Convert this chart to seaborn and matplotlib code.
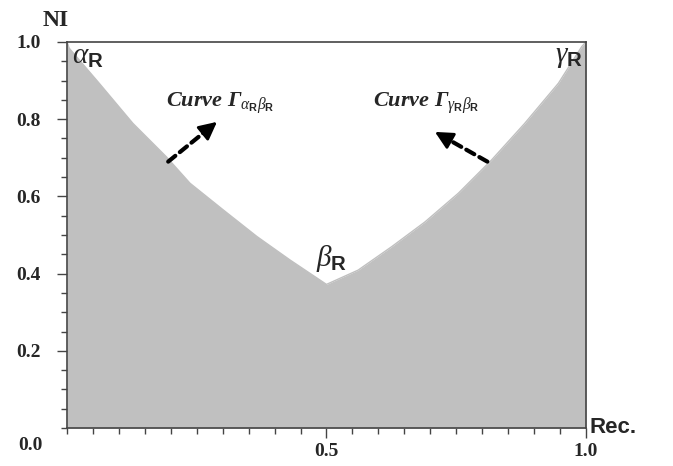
import matplotlib
matplotlib.use("Agg")
import matplotlib.pyplot as plt
import seaborn as sns
import pandas as pd

# boundary of the region
rec = [0.0, 0.004, 0.062, 0.127, 0.191, 0.237, 0.301, 0.366, 0.430, 0.500,
       0.561, 0.626, 0.690, 0.754, 0.818, 0.882, 0.947, 0.992, 1.0]
ni = [1.0, 0.984, 0.893, 0.789, 0.703, 0.634, 0.565, 0.496, 0.435, 0.372,
      0.409, 0.470, 0.534, 0.608, 0.694, 0.789, 0.893, 0.988, 1.0]

y_ticks = [0.2, 0.4, 0.6, 0.8, 1.0]
y_labels = ["0.2", "0.4", "0.6", "0.8", "1.0"]
x_ticks = [0.5, 1.0]
x_labels = ["0.5", "1.0"]

df = pd.DataFrame({"Rec": rec, "NI": ni})

sns.set_theme(style="white")
plt.rcParams["font.family"] = ["Liberation Serif", "DejaVu Serif"]
plt.rcParams["mathtext.fontset"] = "custom"
plt.rcParams["mathtext.rm"] = "Liberation Serif"
plt.rcParams["mathtext.it"] = "Liberation Serif:italic"
plt.rcParams["mathtext.bf"] = "Liberation Serif:bold"
plt.rcParams["mathtext.bfit"] = "Liberation Serif:italic:bold"
plt.rcParams["mathtext.sf"] = "Liberation Sans:bold"

fig = plt.figure(figsize=(6.73, 4.66), dpi=100)
ax = fig.add_axes([0.0996, 0.0815, 0.771, 0.8285])

ax.fill_between(df["Rec"], 0, df["NI"], color="#c0c0c0", lw=0)
sns.lineplot(data=df, x="Rec", y="NI", ax=ax, color="#c0c0c0", lw=1, sort=False)

ax.set_xlim(0, 1)
ax.set_ylim(0, 1)
ax.set_xlabel("")
ax.set_ylabel("")

for s in ax.spines.values():
    s.set_color("#444444")
    s.set_linewidth(1.2)

ax.set_xticks(x_ticks)
ax.set_xticklabels(x_labels, fontsize=14, fontweight="bold")
ax.set_xticks([i * 0.05 for i in range(21)], minor=True)
ax.set_yticks(y_ticks)
ax.set_yticklabels(y_labels, fontsize=14, fontweight="bold")
ax.set_yticks([i * 0.05 for i in range(21)], minor=True)
ax.tick_params(axis="both", which="both", direction="out", bottom=True, left=True,
               top=False, right=False, color="#444444", width=1)
ax.tick_params(axis="both", which="major", length=7, pad=12)
ax.tick_params(axis="both", which="minor", length=4)
ax.tick_params(axis="x", which="major", pad=4)

# shared origin label, axis names
fig.text(0.045, 0.045, "0.0", fontsize=14, fontweight="bold", ha="center", va="center")
fig.text(0.082, 0.955, "NI", fontsize=17, fontweight="bold", ha="center", va="center")
fig.text(0.876, 0.083, "Rec.", fontsize=16, fontweight="bold", ha="left", va="center",
         family="Liberation Sans")

# point labels
ax.text(0.01, 0.962, r"$\alpha_{\mathsf{R}}$", fontsize=21, ha="left", va="center")
ax.text(0.94, 0.962, r"$\gamma_{\mathsf{R}}$", fontsize=21, ha="left", va="center")
ax.text(0.48, 0.44, r"$\beta_{\mathsf{R}}$", fontsize=21, ha="left", va="center")

ax.text(0.19, 0.84, r"Curve Γ$_{\alpha_{\mathsf{R}}\beta_{\mathsf{R}}}$",
        fontsize=16, fontweight="bold", style="italic", ha="left", va="center")
ax.text(0.59, 0.84, r"Curve Γ$_{\gamma_{\mathsf{R}}\beta_{\mathsf{R}}}$",
        fontsize=16, fontweight="bold", style="italic", ha="left", va="center")

# dashed arrows: dashed shaft + solid head
arrows = [((0.195, 0.69), (0.289, 0.793)), ((0.81, 0.69), (0.709, 0.767))]
for tail, tip in arrows:
    mid = (tail[0] + 0.75 * (tip[0] - tail[0]), tail[1] + 0.75 * (tip[1] - tail[1]))
    ax.annotate("", xy=mid, xytext=tail,
                arrowprops=dict(arrowstyle="-", lw=3, ls=(0, (2.2, 1.4)), color="black",
                                shrinkA=0, shrinkB=0))
    ax.annotate("", xy=tip, xytext=mid,
                arrowprops=dict(arrowstyle="-|>,head_width=0.45,head_length=0.9", lw=2,
                                color="black", shrinkA=0, shrinkB=0))

fig.savefig("out.png", dpi=100)
